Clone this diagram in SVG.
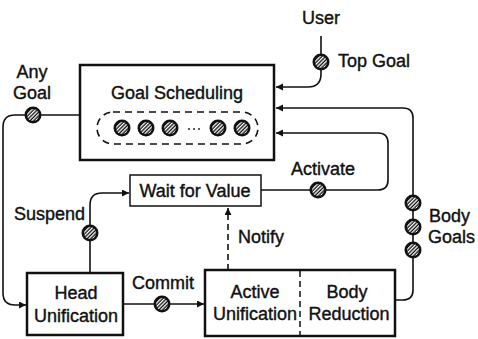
<svg xmlns="http://www.w3.org/2000/svg" width="478" height="339" viewBox="0 0 478 339">
<style>
text{font-family:"Liberation Sans",Arial,sans-serif;font-size:18px;fill:#111;stroke:#111;stroke-width:0.4}
.box{fill:#fff;stroke:#111;stroke-width:2.5}
.thin{fill:#fff;stroke:#111;stroke-width:1.5}
.c{fill:none;stroke:#111;stroke-width:1.6}
.dash{stroke-dasharray:6 4}
</style>
<defs>
<pattern id="hatch" patternUnits="userSpaceOnUse" width="2.6" height="2.6" patternTransform="rotate(-45)">
<rect width="2.6" height="2.6" fill="#111"/>
<rect width="2.6" height="1.3" fill="#fff"/>
</pattern>
<g id="tok">
<circle r="8.5" fill="#111"/>
<circle r="6" fill="url(#hatch)"/>
</g>
<marker id="arr" markerUnits="userSpaceOnUse" markerWidth="8" markerHeight="8" refX="7" refY="3.5" orient="auto">
<path d="M0,0 L7,3.5 L0,7 z" fill="#111"/>
</marker>
</defs>
<g id="connectors">
<path class="c" d="M80,115 H15 Q3,115 3,127 V293 Q3,305 15,305 H26" marker-end="url(#arr)"/>
<path class="c" d="M321,36 V74 Q321,87 308,87 H276" marker-end="url(#arr)"/>
<path class="c" d="M395,300 H403 Q413,300 413,290 V118 Q413,108 403,108 H276" marker-end="url(#arr)"/>
<path class="c" d="M261,190 H378 Q388,190 388,180 V143 Q388,133 378,133 H276" marker-end="url(#arr)"/>
<path class="c" d="M90,273 V205 Q90,193 102,193 H129" marker-end="url(#arr)"/>
<path class="c dash" d="M228,270 V208" marker-end="url(#arr)"/>
<path class="c" d="M123,304 H204" marker-end="url(#arr)"/>
<use href="#tok" x="33" y="115"/>
<use href="#tok" x="321" y="62"/>
<use href="#tok" x="413" y="203"/>
<use href="#tok" x="413" y="227"/>
<use href="#tok" x="413" y="250"/>
<use href="#tok" x="318" y="190"/>
<use href="#tok" x="90" y="233"/>
<use href="#tok" x="162" y="304"/>
<text x="32" y="78" text-anchor="middle">Any</text>
<text x="32" y="99" text-anchor="middle">Goal</text>
<text x="321" y="24" text-anchor="middle">User</text>
<text x="338" y="67">Top Goal</text>
<text x="323" y="175" text-anchor="middle">Activate</text>
<text x="429" y="222">Body</text>
<text x="428" y="243">Goals</text>
<text x="85" y="220" text-anchor="end">Suspend</text>
<text x="238" y="243">Notify</text>
<text x="163" y="289" text-anchor="middle">Commit</text>
</g>
<g id="goal-scheduling">
<rect class="box" x="80" y="65" width="194" height="95"/>
<text x="177" y="99" text-anchor="middle">Goal Scheduling</text>
<rect x="97" y="112" width="161" height="32" rx="16" fill="none" stroke="#111" stroke-width="1.6" stroke-dasharray="7 5"/>
<use href="#tok" x="122" y="128"/>
<use href="#tok" x="146" y="128"/>
<use href="#tok" x="170" y="128"/>
<circle cx="189" cy="129" r="0.9" fill="#111"/>
<circle cx="194" cy="129" r="0.9" fill="#111"/>
<circle cx="199" cy="129" r="0.9" fill="#111"/>
<use href="#tok" x="218" y="128"/>
<use href="#tok" x="242" y="128"/>
</g>
<g id="wait-for-value">
<rect class="thin" x="130" y="175" width="131" height="31"/>
<text x="195" y="197" text-anchor="middle">Wait for Value</text>
</g>
<g id="head-unification">
<rect class="box" x="27" y="273" width="96" height="62"/>
<text x="76" y="299" text-anchor="middle">Head</text>
<text x="76" y="322" text-anchor="middle">Unification</text>
</g>
<g id="active-body">
<rect class="box" x="205" y="270" width="190" height="66"/>
<line x1="300" y1="271" x2="300" y2="335" stroke="#111" stroke-width="1.5" stroke-dasharray="6 4"/>
<text x="255" y="298" text-anchor="middle">Active</text>
<text x="255" y="320" text-anchor="middle">Unification</text>
<text x="347" y="298" text-anchor="middle">Body</text>
<text x="349" y="320" text-anchor="middle">Reduction</text>
</g>
</svg>
